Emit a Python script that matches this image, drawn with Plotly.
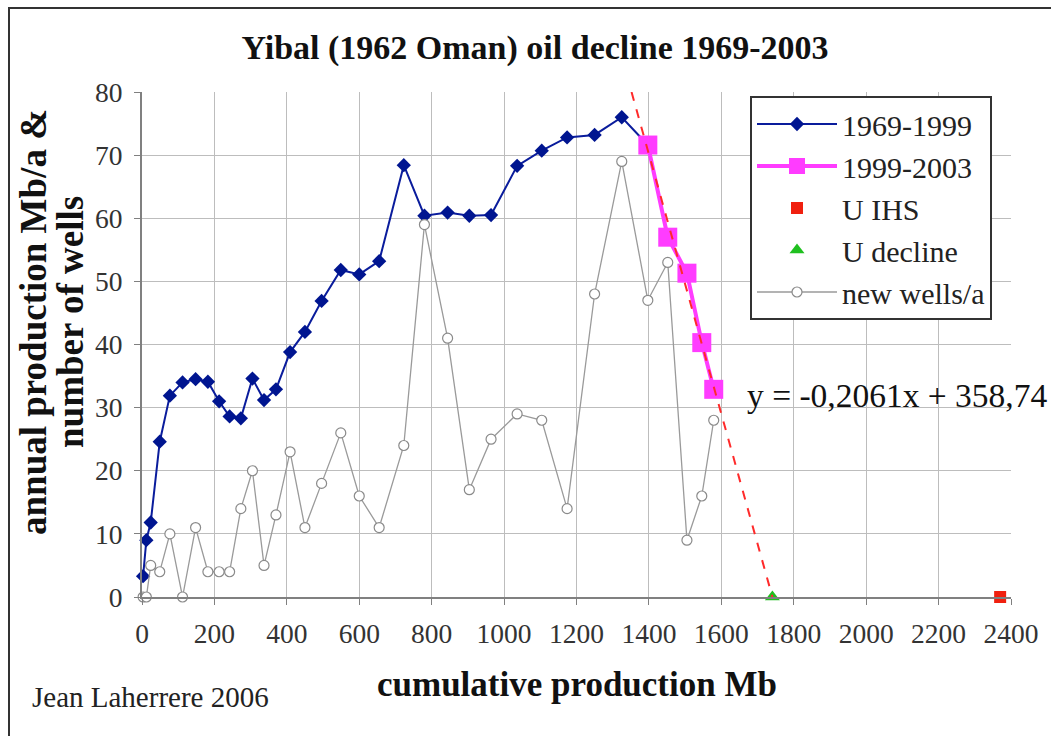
import plotly.graph_objects as go

# ---- data ----
cum_1969_1999 = [3, 12, 24, 49, 77, 112, 148, 182, 213, 242, 273, 305, 337, 370, 409,
                 450, 496, 549, 600, 655, 723, 780, 844, 904, 964, 1036, 1104, 1174,
                 1250, 1325, 1397]
prod_1969_1999 = [3.3, 9.0, 11.8, 24.6, 31.9, 34.0, 34.5, 34.1, 31.0, 28.6, 28.3, 34.6,
                  31.2, 32.9, 38.8, 42.0, 46.9, 51.8, 51.1, 53.2, 68.4, 60.4, 60.9, 60.4,
                  60.5, 68.3, 70.7, 72.8, 73.2, 76.0, 71.6]
cum_1999_2003 = [1397, 1452, 1505, 1546, 1579]
prod_1999_2003 = [71.6, 57.0, 51.3, 40.3, 32.9]
cum_wells = cum_1969_1999 + cum_1999_2003[1:]
new_wells = [0, 0, 5, 4, 10, 0, 11, 4, 4, 4, 14, 20, 5, 13, 23, 11, 18, 26, 16, 11,
             24, 59, 41, 17, 25, 29, 28, 14, 48, 69, 47, 53, 9, 16, 28]
u_ihs_x = [2370]
u_ihs_y = [0]
u_decline_x = [1741]
u_decline_y = [0]
trend_x = [1352, 1741]
trend_y = [80, 0]
x_ticks = list(range(0, 2401, 200))
y_ticks = list(range(0, 81, 10))

SERIF = "Liberation Serif, Times New Roman, serif"

# plot-area geometry in pixels (used only to place free text)
L, R, T, B = 142, 1011, 92, 597
PW, PH = R - L, B - T


def px(xp):
    return (xp - L) / PW


def py(yp):
    return (B - yp) / PH


fig = go.Figure()

fig.add_trace(go.Scatter(
    x=cum_1969_1999, y=prod_1969_1999, name="1969-1999", mode="lines+markers",
    line=dict(color="#0a1c9c", width=2),
    marker=dict(symbol="diamond", size=11, color="#001590"),
    legendgroup="a", legendrank=1, cliponaxis=False))

fig.add_trace(go.Scatter(
    x=cum_1999_2003, y=prod_1999_2003, name="1999-2003", mode="lines+markers",
    line=dict(color="#ff3cff", width=4),
    marker=dict(symbol="square", size=19, color="#ff3cff"),
    legendgroup="b", legendrank=2, cliponaxis=False))

fig.add_trace(go.Scatter(
    x=u_ihs_x, y=u_ihs_y, name="U IHS", mode="markers",
    marker=dict(symbol="square", size=12, color="#f0200f"),
    legendgroup="c", legendrank=3, cliponaxis=False))

fig.add_trace(go.Scatter(
    x=u_decline_x, y=u_decline_y, name="U decline", mode="markers",
    marker=dict(symbol="triangle-up", size=13, color="#1fc01f"),
    legendgroup="d", legendrank=4, cliponaxis=False))

fig.add_trace(go.Scatter(
    x=cum_wells, y=new_wells, name="new wells/a", mode="lines+markers",
    line=dict(color="#9a9a9a", width=1.3),
    marker=dict(symbol="circle", size=10, color="white",
                line=dict(color="#8a8a8a", width=1.2)),
    legendgroup="e", legendrank=5, cliponaxis=False))

fig.add_trace(go.Scatter(
    x=trend_x, y=trend_y, mode="lines", showlegend=False,
    line=dict(color="#ff2a2a", width=2, dash="dash"), hoverinfo="skip"))

axis_common = dict(
    showgrid=True, gridcolor="#bdbdbd", gridwidth=1,
    showline=True, linecolor="#808080", linewidth=2,
    ticks="outside", ticklen=6, tickcolor="#808080",
    zeroline=False,
    tickfont=dict(family=SERIF, size=27.5, color="#333333"),
)

fig.update_xaxes(range=[0, 2400], tickvals=x_ticks, ticklabelstandoff=5, **axis_common)
fig.update_yaxes(range=[0, 80], tickvals=y_ticks, ticklabelstandoff=6, **axis_common)

fig.update_layout(
    width=1051, height=736,
    margin=dict(l=L, r=1051 - R, t=T, b=736 - B),
    paper_bgcolor="white", plot_bgcolor="white",
    font=dict(family=SERIF, color="#111111"),
    title=dict(text="<b>Yibal (1962 Oman) oil decline 1969-2003</b>",
               font=dict(family=SERIF, size=34, color="#111111"),
               xref="paper", x=px(535), xanchor="center",
               yref="container", y=1 - 47 / 736, yanchor="middle"),
    legend=dict(x=px(750), y=py(96), xanchor="left", yanchor="top",
                bgcolor="white", bordercolor="#333333", borderwidth=2,
                font=dict(family=SERIF, size=30, color="#222222"),
                traceorder="grouped", tracegroupgap=0, itemwidth=80),
    showlegend=True,
    annotations=[
        dict(text="<b>annual production Mb/a &</b>", xref="paper", yref="paper",
             x=px(33), y=py(322), textangle=-90,
             showarrow=False, xanchor="center", yanchor="middle",
             font=dict(family=SERIF, size=37, color="#111111")),
        dict(text="<b>number of wells</b>", xref="paper", yref="paper",
             x=px(70), y=py(322), textangle=-90,
             showarrow=False, xanchor="center", yanchor="middle",
             font=dict(family=SERIF, size=37, color="#111111")),
        dict(text="<b>cumulative production Mb</b>", xref="paper", yref="paper",
             x=px(577), y=py(684), showarrow=False,
             xanchor="center", yanchor="middle",
             font=dict(family=SERIF, size=35, color="#111111")),
        dict(text="Jean Laherrere 2006", xref="paper", yref="paper",
             x=px(30), y=py(697), showarrow=False,
             xanchor="left", yanchor="middle",
             font=dict(family=SERIF, size=29, color="#222222")),
        dict(text="y = -0,2061x + 358,74", xref="paper", yref="paper",
             x=px(745), y=py(395), showarrow=False,
             xanchor="left", yanchor="middle",
             font=dict(family=SERIF, size=33.5, color="#111111")),
    ],
    shapes=[
        dict(type="rect", xref="paper", yref="paper",
             x0=px(9), x1=px(1070), y0=py(760), y1=py(8),
             line=dict(color="#333333", width=2), fillcolor="rgba(0,0,0,0)",
             layer="below"),
    ],
)

fig.write_html("out.html", config={"displayModeBar": False},
               post_script="document.body.style.margin='0';")
